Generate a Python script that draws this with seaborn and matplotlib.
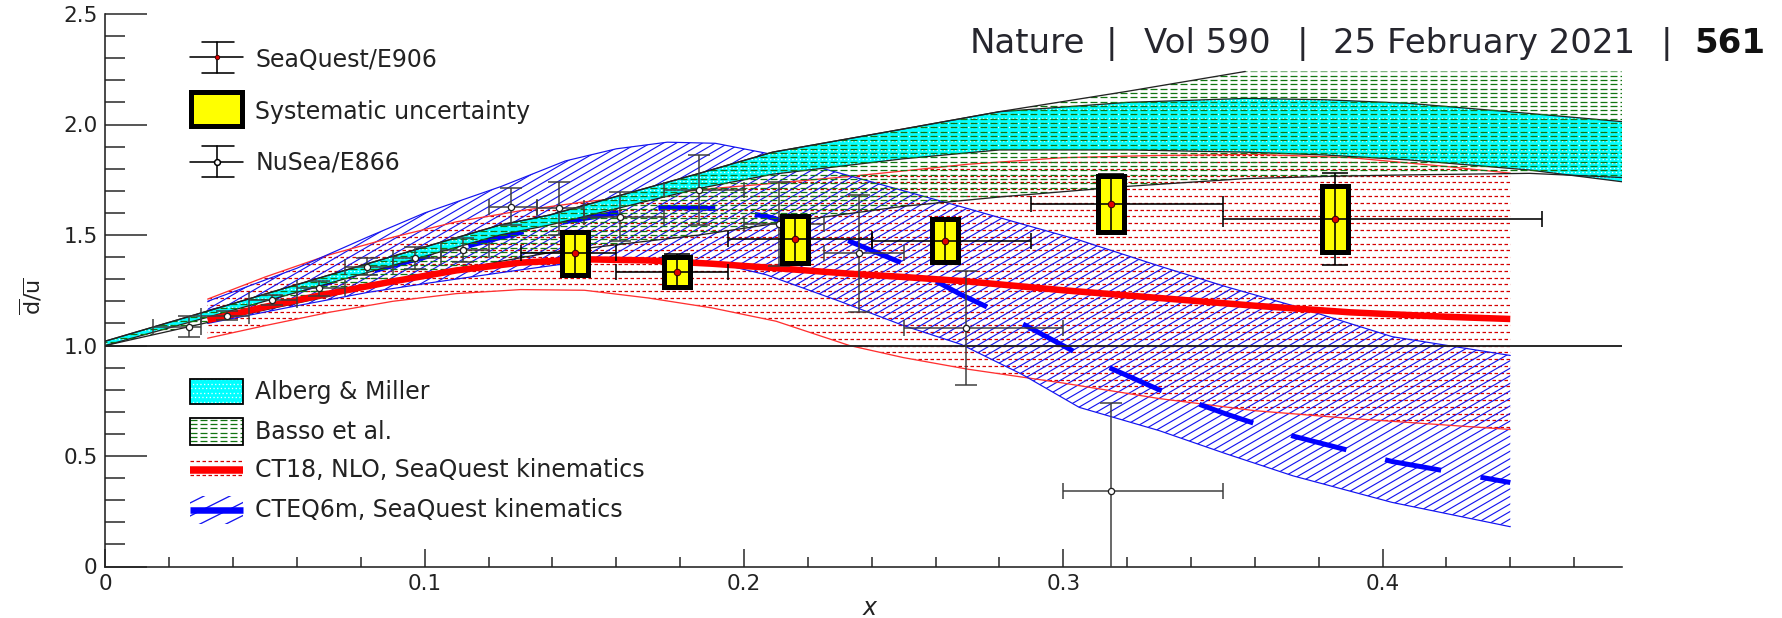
import numpy as np
import matplotlib
matplotlib.use("Agg")
import matplotlib.pyplot as plt
import seaborn as sns
from matplotlib.collections import LineCollection
from matplotlib.transforms import IdentityTransform
from matplotlib.patches import Rectangle
from matplotlib.lines import Line2D
from matplotlib.ticker import MultipleLocator, FuncFormatter

# ---------------------------------------------------------------- data
# SeaQuest/E906 measurement
sq_x = [0.147, 0.179, 0.216, 0.263, 0.315, 0.385]
sq_xlo = [0.130, 0.160, 0.195, 0.240, 0.290, 0.350]
sq_xhi = [0.160, 0.195, 0.240, 0.290, 0.350, 0.450]
sq_ratio = [1.417, 1.334, 1.481, 1.474, 1.640, 1.572]
sq_stat = [0.100, 0.078, 0.110, 0.100, 0.135, 0.207]
sq_sys = [0.098, 0.068, 0.106, 0.098, 0.126, 0.150]

# NuSea/E866 measurement
e866_x = [0.026, 0.038, 0.052, 0.067, 0.082, 0.097, 0.112, 0.127, 0.142,
          0.161, 0.186, 0.211, 0.236, 0.2695, 0.315]
e866_xlo = [0.015, 0.030, 0.045, 0.060, 0.075, 0.090, 0.105, 0.120, 0.135,
            0.150, 0.175, 0.200, 0.225, 0.250, 0.300]
e866_xhi = [0.030, 0.045, 0.060, 0.075, 0.090, 0.105, 0.120, 0.135, 0.150,
            0.175, 0.200, 0.225, 0.250, 0.300, 0.350]
e866_ratio = [1.085, 1.135, 1.205, 1.259, 1.357, 1.394, 1.432, 1.628, 1.620,
              1.583, 1.704, 1.549, 1.417, 1.078, 0.343]
e866_err = [0.048, 0.020, 0.022, 0.035, 0.038, 0.050, 0.055, 0.083, 0.120,
            0.110, 0.158, 0.190, 0.265, 0.258, 0.395]

# CT18 NLO band
ct18_x = [0.032, 0.05, 0.07, 0.09, 0.11, 0.13, 0.15, 0.17, 0.19, 0.21, 0.233,
          0.25, 0.27, 0.30, 0.33, 0.36, 0.39, 0.42, 0.44]
ct18_mid = [1.115, 1.175, 1.235, 1.29, 1.34, 1.375, 1.39, 1.385, 1.37, 1.35,
            1.325, 1.31, 1.29, 1.25, 1.215, 1.18, 1.15, 1.13, 1.12]
ct18_hi = [1.21, 1.31, 1.41, 1.49, 1.56, 1.61, 1.65, 1.68, 1.71, 1.735, 1.765,
           1.79, 1.82, 1.85, 1.86, 1.865, 1.85, 1.81, 1.78]
ct18_lo = [1.033, 1.09, 1.15, 1.20, 1.235, 1.253, 1.25, 1.215, 1.17, 1.11, 1.0,
           0.945, 0.893, 0.83, 0.76, 0.705, 0.67, 0.64, 0.62]

# CTEQ6m band
cteq_x = [0.032, 0.06, 0.082, 0.10, 0.124, 0.144, 0.16, 0.176, 0.191, 0.207,
          0.23, 0.25, 0.268, 0.287, 0.305, 0.33, 0.351, 0.372, 0.403, 0.44]
cteq_mid = [1.15, 1.25, 1.33, 1.40, 1.49, 1.56, 1.60, 1.625, 1.62, 1.585,
            1.49, 1.37, 1.23, 1.10, 0.96, 0.80, 0.69, 0.59, 0.475, 0.38]
cteq_hi = [1.20, 1.35, 1.49, 1.60, 1.72, 1.835, 1.89, 1.92, 1.915, 1.87,
           1.78, 1.70, 1.628, 1.55, 1.477, 1.36, 1.266, 1.18, 1.04, 0.955]
cteq_lo = [1.10, 1.18, 1.24, 1.28, 1.33, 1.37, 1.39, 1.39, 1.375, 1.32,
           1.20, 1.09, 1.005, 0.87, 0.72, 0.615, 0.51, 0.41, 0.29, 0.18]

# Alberg & Miller and Basso et al. bands
model_x = [0.0, 0.04, 0.082, 0.1235, 0.139, 0.186, 0.209, 0.25, 0.28, 0.32,
           0.357, 0.382, 0.408, 0.446, 0.475]
am_hi = [1.02, 1.19, 1.37, 1.545, 1.59, 1.779, 1.875, 1.98, 2.058, 2.10,
         2.118, 2.112, 2.096, 2.05, 2.013]
am_lo = [1.0, 1.16, 1.33, 1.50, 1.545, 1.711, 1.775, 1.845, 1.885, 1.885,
         1.875, 1.862, 1.84, 1.794, 1.741]
basso_hi = [1.02, 1.19, 1.37, 1.545, 1.59, 1.779, 1.875, 1.98, 2.058, 2.15,
            2.24, 2.24, 2.24, 2.24, 2.24]
basso_lo = [1.0, 1.13, 1.26, 1.38, 1.42, 1.50, 1.55, 1.63, 1.672, 1.72,
            1.755, 1.765, 1.772, 1.779, 1.76]

x_ticks = [0, 0.1, 0.2, 0.3, 0.4]
y_ticks = [0, 0.5, 1.0, 1.5, 2.0, 2.5]

# ---------------------------------------------------------------- style
sns.set_style("ticks")
plt.rcParams["font.family"] = ["DejaVu Sans"]
plt.rcParams["mathtext.fontset"] = "dejavusans"
plt.rcParams["lines.scale_dashes"] = False

W, H = 1783, 618
PT = 72 / 100.0          # points per pixel at 100 dpi
fig = plt.figure(figsize=(W / 100, H / 100), dpi=100)
AX_L, AX_R, AX_T, AX_B = 105.5, 1622.0, 14.0, 566.5
ax = fig.add_axes([AX_L / W, 1 - AX_B / H, (AX_R - AX_L) / W, (AX_B - AX_T) / H])
ax.set_xlim(0, 0.475)
ax.set_ylim(0, 2.5)

INK = "#222222"
RED = "#ff0000"
HATCH_RED = "#d40000"
BLUE = "#1414f0"
GREEN = "#127512"
CYAN = "#00ffff"


def frac(px, py):
    """figure pixel (origin top-left) -> axes fraction"""
    return (px - AX_L) / (AX_R - AX_L), (AX_B - py) / (AX_B - AX_T)


def _clip(lc, clip, trans):
    ax.add_collection(lc, autolim=False)
    if trans is None:
        lc.set_clip_path(clip)
    else:
        lc.set_clip_path(clip, trans)


def rows_pattern(clip, trans, step, color, lw, on, off, shift=0.0, z=1.0, alpha=1.0):
    ys = np.arange(0.5, H, step)
    for sel, ph in ((ys[0::2], 0.0), (ys[1::2], shift)):
        segs = [[(0, y), (W, y)] for y in sel]
        lc = LineCollection(segs, colors=color, linewidths=lw * PT, alpha=alpha,
                            linestyles=[(ph * PT, (on * PT, off * PT))],
                            transform=IdentityTransform(), zorder=z)
        _clip(lc, clip, trans)


def diag_pattern(clip, trans, step, slope, color, lw, z=1.0):
    x0s = np.arange(-H / slope, W, step)
    segs = [[(x0, 0), (x0 + H / slope, H)] for x0 in x0s]
    lc = LineCollection(segs, colors=color, linewidths=lw * PT,
                        transform=IdentityTransform(), zorder=z)
    _clip(lc, clip, trans)


def band_path(x, lo, hi, **kw):
    coll = ax.fill_between(x, lo, hi, **kw)
    return coll.get_paths()[0]


# ---------------------------------------------------------------- CT18 band
p = band_path(ct18_x, ct18_lo, ct18_hi, facecolor="none", edgecolor="none", lw=0, zorder=1)
rows_pattern(p, ax.transData, 6.8, HATCH_RED, 1.25, 3.5, 2.5, shift=2.0, z=1.0)
ax.plot(ct18_x, ct18_hi, color="#ff3030", lw=1.3 * PT, zorder=1.3)
ax.plot(ct18_x, ct18_lo, color="#ff3030", lw=1.3 * PT, zorder=1.3)

# ---------------------------------------------------------------- CTEQ6m band
p = band_path(cteq_x, cteq_lo, cteq_hi, facecolor="none", edgecolor="none", lw=0, zorder=1.1)
diag_pattern(p, ax.transData, 13.0, 0.58, BLUE, 1.15, z=1.2)
ax.plot(cteq_x, cteq_hi, color=BLUE, lw=1.2 * PT, zorder=1.3)
ax.plot(cteq_x, cteq_lo, color=BLUE, lw=1.2 * PT, zorder=1.3)
sns.lineplot(x=cteq_x, y=cteq_mid, color="#0000ff", linewidth=5.0 * PT, ax=ax, zorder=1.5,
             linestyle=(22 * PT, (57 * PT, 40 * PT)), dash_capstyle="butt")

# ---------------------------------------------------------------- Alberg & Miller
p = band_path(model_x, am_lo, am_hi, facecolor=CYAN, edgecolor="none", lw=0, zorder=2.0)
rows_pattern(p, ax.transData, 4.5, "white", 1.3, 1.3, 2.4, shift=1.7, z=2.1, alpha=0.9)
ax.plot(model_x, am_hi, color=INK, lw=1.3 * PT, zorder=2.2)
ax.plot(model_x, am_lo, color=INK, lw=1.3 * PT, zorder=2.2)

# ---------------------------------------------------------------- Basso et al.
p = band_path(model_x, basso_lo, basso_hi, facecolor="none", edgecolor="none", lw=0, zorder=2.3)
rows_pattern(p, ax.transData, 4.3, GREEN, 1.25, 7.0, 3.0, shift=0.0, z=2.3)
bh = np.asarray(basso_hi)
stop = int(np.argmax(bh >= bh.max())) + 1
ax.plot(model_x[:stop], basso_hi[:stop], color=INK, lw=1.3 * PT, zorder=2.4)
ax.plot(model_x, basso_lo, color=INK, lw=1.3 * PT, zorder=2.4)

# ---------------------------------------------------------------- CT18 central curve
sns.lineplot(x=ct18_x, y=ct18_mid, color=RED, linewidth=6.5 * PT, ax=ax, zorder=3,
             solid_capstyle="butt")

ax.axhline(1.0, color=INK, lw=1.9 * PT, zorder=3.5)

# ---------------------------------------------------------------- NuSea/E866
e_x = np.asarray(e866_x)
e_xerr = [e_x - np.asarray(e866_xlo), np.asarray(e866_xhi) - e_x]
ax.errorbar(e866_x, e866_ratio, yerr=e866_err, fmt="none", ecolor="#3c3c3c",
            elinewidth=1.5 * PT, capsize=11 * PT, capthick=1.5 * PT, zorder=4)
ax.errorbar(e866_x, e866_ratio, xerr=e_xerr, fmt="none", ecolor="#3c3c3c",
            elinewidth=1.5 * PT, capsize=8 * PT, capthick=1.5 * PT, zorder=4)
sns.scatterplot(x=e866_x, y=e866_ratio, marker="o", s=20, facecolor="white",
                edgecolor="#222222", linewidth=1.3 * PT, ax=ax, zorder=4.5)

# ---------------------------------------------------------------- SeaQuest/E906
BOX_W = 0.0082
s_x = np.asarray(sq_x)
s_r = np.asarray(sq_ratio)
s_sys = np.asarray(sq_sys)
ax.bar(sq_x, 2 * s_sys, bottom=s_r - s_sys, width=BOX_W, color="#ffff00",
       edgecolor="black", linewidth=5.0 * PT, zorder=5)
s_xerr = [s_x - np.asarray(sq_xlo), np.asarray(sq_xhi) - s_x]
ax.errorbar(sq_x, sq_ratio, yerr=sq_stat, fmt="none", ecolor="black",
            elinewidth=1.6 * PT, capsize=13 * PT, capthick=1.6 * PT, zorder=6)
ax.errorbar(sq_x, sq_ratio, xerr=s_xerr, fmt="none", ecolor="black",
            elinewidth=1.6 * PT, capsize=8 * PT, capthick=1.6 * PT, zorder=6)
sns.scatterplot(x=sq_x, y=sq_ratio, marker="o", s=22, color="#e00000",
                edgecolor="#3a0000", linewidth=1.0 * PT, ax=ax, zorder=7)

# ---------------------------------------------------------------- axes
sns.despine(ax=ax)
for side in ("left", "bottom"):
    ax.spines[side].set_linewidth(1.6 * PT)
    ax.spines[side].set_color(INK)
ax.xaxis.set_major_locator(MultipleLocator(0.1))
ax.xaxis.set_minor_locator(MultipleLocator(0.02))
ax.yaxis.set_major_locator(MultipleLocator(0.5))
ax.yaxis.set_minor_locator(MultipleLocator(0.1))
ax.set_xticks(x_ticks)
ax.set_yticks(y_ticks)
fmt = FuncFormatter(lambda v, _: "0" if abs(v) < 1e-9 else f"{v:.1f}")
ax.xaxis.set_major_formatter(fmt)
ax.yaxis.set_major_formatter(fmt)
ax.tick_params(axis="y", which="major", direction="in", length=42 * PT, width=1.5 * PT,
               pad=8 * PT, labelsize=15.5, colors=INK)
ax.tick_params(axis="y", which="minor", direction="in", length=20 * PT, width=1.5 * PT, colors=INK)
ax.tick_params(axis="x", which="major", direction="in", length=18 * PT, width=1.5 * PT,
               pad=7 * PT, labelsize=15.5, colors=INK)
ax.tick_params(axis="x", which="minor", direction="in", length=9.7 * PT, width=1.5 * PT, colors=INK)

ax.set_ylabel(r"$\overline{\mathrm{d}}/\overline{\mathrm{u}}$", fontsize=16, color=INK)
ax.yaxis.set_label_coords(frac(44, 0)[0], frac(0, 296)[1])
ax.set_xlabel("x", fontsize=17, style="italic", color=INK, va="baseline")
ax.xaxis.set_label_coords(frac(870, 0)[0], frac(0, 615)[1])

# ---------------------------------------------------------------- legends
LEG_FS = 17
TXT_X = frac(255.5, 0)[0]


def leg_text(py, s):
    ax.text(TXT_X, frac(0, py)[1], s, transform=ax.transAxes, fontsize=LEG_FS,
            color=INK, va="center", ha="left", zorder=10)


def leg_line(p0, p1, **kw):
    a, b = frac(*p0), frac(*p1)
    ax.add_line(Line2D([a[0], b[0]], [a[1], b[1]], transform=ax.transAxes,
                       clip_on=False, zorder=10, **kw))


def leg_rect(x0, y0, x1, y1, **kw):
    a = frac(x0, y1)
    b = frac(x1, y0)
    r = Rectangle(a, b[0] - a[0], b[1] - a[1], transform=ax.transAxes, **kw)
    ax.add_patch(r)
    return r


# SeaQuest/E906 entry
cx, cy = 216.6, 57.3
leg_line((190, cy), (243, cy), color="black", lw=1.6 * PT)
leg_line((cx, 41.7), (cx, 72.7), color="black", lw=1.6 * PT)
leg_line((201.7, 41.7), (234, 41.7), color="black", lw=1.6 * PT)
leg_line((201.7, 72.7), (234, 72.7), color="black", lw=1.6 * PT)
m = frac(cx, cy)
ax.plot([m[0]], [m[1]], "o", ms=3.2, color="#e00000", mec="#3a0000", mew=0.6,
        transform=ax.transAxes, clip_on=False, zorder=11)
leg_text(60, "SeaQuest/E906")

# systematic box entry
leg_rect(191.2, 91.8, 242.5, 125.8, facecolor="#ffff00", edgecolor="black",
         lw=5.0 * PT, zorder=10)
leg_text(112, "Systematic uncertainty")

# NuSea/E866 entry
cy = 161.5
leg_line((190, cy), (243, cy), color="black", lw=1.6 * PT)
leg_line((cx, 145.7), (cx, 177.3), color="black", lw=1.6 * PT)
leg_line((201.7, 145.7), (234, 145.7), color="black", lw=1.6 * PT)
leg_line((201.7, 177.3), (234, 177.3), color="black", lw=1.6 * PT)
m = frac(cx, cy)
ax.plot([m[0]], [m[1]], "o", ms=4.2, color="white", mec="black", mew=1.1,
        transform=ax.transAxes, clip_on=False, zorder=11)
leg_text(163, "NuSea/E866")

# Alberg & Miller entry
r = leg_rect(190.5, 378.5, 242.8, 403.5, facecolor=CYAN, edgecolor="none", zorder=9)
rows_pattern(r, None, 4.5, "white", 1.3, 1.3, 2.4, shift=1.7, z=9.5, alpha=0.9)
leg_rect(190.5, 378.5, 242.8, 403.5, facecolor="none", edgecolor="black",
         lw=1.8 * PT, zorder=10)
leg_text(392, "Alberg & Miller")

# Basso et al. entry
r = leg_rect(190.5, 418, 242.8, 445, facecolor="white", edgecolor="none", zorder=9)
rows_pattern(r, None, 4.3, GREEN, 1.25, 7.0, 3.0, z=9.5)
leg_rect(190.5, 418, 242.8, 445, facecolor="none", edgecolor="black",
         lw=1.8 * PT, zorder=10)
leg_text(432, "Basso et al.")

# CT18 entry
r = leg_rect(190, 458, 243.4, 481, facecolor="none", edgecolor="none", zorder=9)
rows_pattern(r, None, 6.8, HATCH_RED, 1.25, 3.5, 2.5, shift=2.0, z=9.5)
leg_line((190, 470), (243.4, 470), color=RED, lw=7.5 * PT, solid_capstyle="butt")
leg_text(470, "CT18, NLO, SeaQuest kinematics")

# CTEQ6m entry
r = leg_rect(190, 496, 243.4, 524, facecolor="none", edgecolor="none", zorder=9)
diag_pattern(r, None, 26.0, 0.5, BLUE, 1.3, z=9.5)
leg_line((190, 510), (243.4, 510), color="#0000ff", lw=6.5 * PT, solid_capstyle="butt")
leg_text(510, "CTEQ6m, SeaQuest kinematics")

# ---------------------------------------------------------------- running head
HEAD_FS = 24.5
HEAD_Y = 1 - 53.3 / H
HEAD_C = "#26262e"
fig.text(1085 / W, HEAD_Y, "Nature", fontsize=HEAD_FS, color=HEAD_C, ha="right", va="baseline")
for px in (1111, 1302.5, 1666):
    fig.text(px / W, HEAD_Y, "|", fontsize=HEAD_FS, color=HEAD_C, ha="center", va="baseline")
fig.text(1207.5 / W, HEAD_Y, "Vol 590", fontsize=HEAD_FS, color=HEAD_C, ha="center", va="baseline")
fig.text(1484.5 / W, HEAD_Y, "25 February 2021", fontsize=HEAD_FS, color=HEAD_C,
         ha="center", va="baseline")
fig.text(1694.6 / W, HEAD_Y, "561", fontsize=HEAD_FS, color="#111111", fontweight="bold",
         ha="left", va="baseline")

fig.savefig("out.png", dpi=100, facecolor="white")
